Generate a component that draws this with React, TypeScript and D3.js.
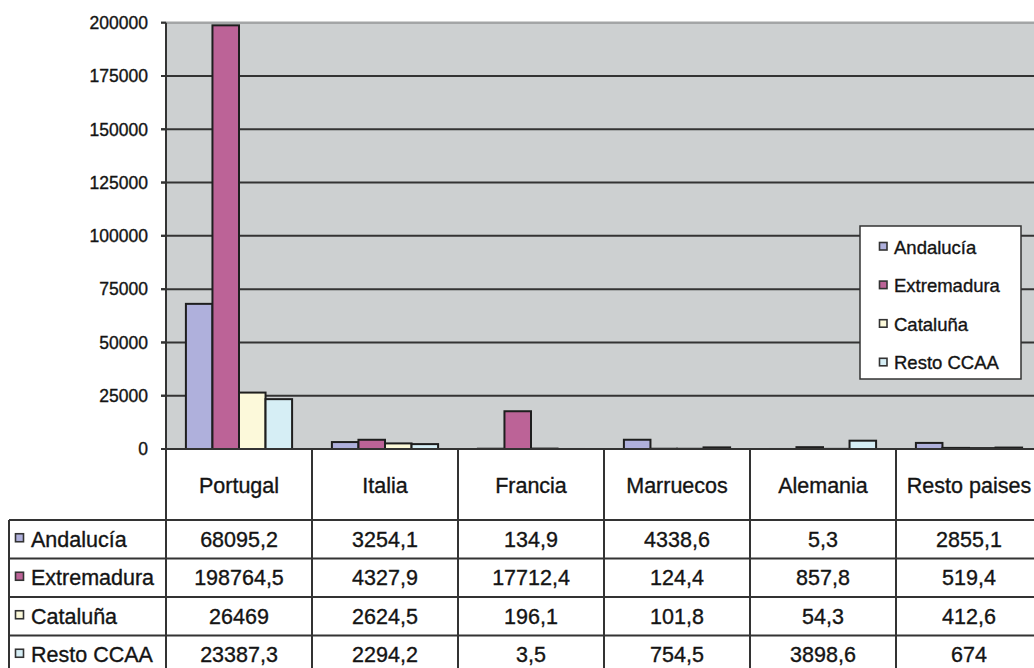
import React from "react";
import * as d3 from "d3";

const categories = ["Portugal", "Italia", "Francia", "Marruecos", "Alemania", "Resto paises"];
const seriesNames = ["Andalucía", "Extremadura", "Cataluña", "Resto CCAA"];
const andalucia = [68095.2, 3254.1, 134.9, 4338.6, 5.3, 2855.1];
const extremadura = [198764.5, 4327.9, 17712.4, 124.4, 857.8, 519.4];
const cataluna = [26469, 2624.5, 196.1, 101.8, 54.3, 412.6];
const restoCCAA = [23387.3, 2294.2, 3.5, 754.5, 3898.6, 674];
const tableLabels = [
  ["68095,2", "3254,1", "134,9", "4338,6", "5,3", "2855,1"],
  ["198764,5", "4327,9", "17712,4", "124,4", "857,8", "519,4"],
  ["26469", "2624,5", "196,1", "101,8", "54,3", "412,6"],
  ["23387,3", "2294,2", "3,5", "754,5", "3898,6", "674"],
];
const yTicks = [0, 25000, 50000, 75000, 100000, 125000, 150000, 175000, 200000];
const colors = ["#afb0dc", "#bc6397", "#fcf9da", "#d6eef5"];

const W = 1034;
const H = 668;
const FONT = "'Liberation Sans', Arial, sans-serif";
const TEXT_FILL = "#141414";

export default function App() {
  const series = [andalucia, extremadura, cataluna, restoCCAA];
  const left = 166;
  const right = 1042;
  const top = 22.7;
  const zeroY = 449;
  const x = d3.scaleBand<string>().domain(categories).range([left, right]).padding(0);
  const xs = d3.scaleBand<string>().domain(seriesNames).range([0, x.bandwidth()]).paddingInner(0).paddingOuter(0.75);
  const y = d3.scaleLinear().domain([0, 200000]).range([zeroY, top]);

  const rowTop = 520;
  const rowH = 38.5;
  const tableLeft = 9;
  const lineColor = "#333";
  const textStyle = { stroke: TEXT_FILL, strokeWidth: 0.35 } as const;

  return (
    <svg width={W} height={H} style={{ position: "absolute", left: 0, top: 0, background: "#fff" }} fontFamily={FONT}>
      {/* plot background */}
      <rect x={left} y={top} width={right - left} height={zeroY - top} fill="#cdd0d1" />
      {/* gridlines */}
      {yTicks.map((t) => (
        <g key={t}>
          <line
            x1={left - 5}
            x2={right}
            y1={y(t)}
            y2={y(t)}
            stroke={t === 200000 ? "#a3a5a6" : lineColor}
            strokeWidth={t === 200000 ? 2.5 : 2}
          />
          <line x1={left - 5} x2={left} y1={y(t)} y2={y(t)} stroke={lineColor} strokeWidth={2} />
          <text x={148} y={y(t)} dy="0.36em" textAnchor="end" fontSize={17.5} fill={TEXT_FILL} {...textStyle}>
            {t}
          </text>
        </g>
      ))}
      {/* y axis */}
      <line x1={left} x2={left} y1={top} y2={zeroY} stroke={lineColor} strokeWidth={2} />
      {/* bars */}
      {categories.map((c, ci) => (
        <g key={c}>
          {series.map((s, si) => {
            const bx = (x(c) as number) + (xs(seriesNames[si]) as number);
            const by = y(s[ci]);
            return (
              <rect
                key={si}
                x={bx}
                y={by}
                width={xs.bandwidth()}
                height={Math.max(0, zeroY - by)}
                fill={colors[si]}
                stroke="#1e1e1e"
                strokeWidth={2}
              />
            );
          })}
        </g>
      ))}
      {/* legend */}
      <g>
        <rect x={860} y={226} width={161} height={153} fill="#fff" stroke={lineColor} strokeWidth={1.5} />
        {seriesNames.map((n, i) => (
          <g key={n}>
            <rect x={879.5} y={247 + i * 38.6 - 4.5} width={7.5} height={7.5} fill={colors[i]} stroke="#333" strokeWidth={1.6} />
            <text x={894} y={247 + i * 38.6} dy="0.36em" fontSize={18.5} fill={TEXT_FILL} {...textStyle}>
              {n}
            </text>
          </g>
        ))}
      </g>
      {/* table */}
      <g>
        {categories.map((c) => (
          <text
            key={c}
            x={(x(c) as number) + x.bandwidth() / 2}
            y={(zeroY + rowTop) / 2 + 1}
            dy="0.36em"
            textAnchor="middle"
            fontSize={21.5}
            fill={TEXT_FILL}
            {...textStyle}
          >
            {c}
          </text>
        ))}
        {[0, 1, 2, 3, 4].map((r) => (
          <line
            key={r}
            x1={tableLeft}
            x2={right}
            y1={rowTop + r * rowH}
            y2={rowTop + r * rowH}
            stroke={lineColor}
            strokeWidth={2}
          />
        ))}
        <line x1={left - 5} x2={right} y1={zeroY} y2={zeroY} stroke={lineColor} strokeWidth={2.2} />
        {d3.range(categories.length + 1).map((i) => {
          const vx = left + i * x.bandwidth();
          return <line key={i} x1={vx} x2={vx} y1={zeroY} y2={H + 10} stroke={lineColor} strokeWidth={2} />;
        })}
        <line x1={tableLeft} x2={tableLeft} y1={rowTop} y2={H + 10} stroke={lineColor} strokeWidth={2} />
        {seriesNames.map((n, ri) => {
          const cy = rowTop + ri * rowH + rowH / 2;
          return (
            <g key={n}>
              <rect x={15.5} y={cy - 5.5} width={8} height={8} fill={colors[ri]} stroke="#333" strokeWidth={1.6} />
              <text x={31} y={cy} dy="0.36em" fontSize={21.5} fill={TEXT_FILL} {...textStyle}>
                {n}
              </text>
              {categories.map((c, ci) => (
                <text
                  key={c}
                  x={(x(c) as number) + x.bandwidth() / 2}
                  y={cy}
                  dy="0.36em"
                  textAnchor="middle"
                  fontSize={21.5}
                  fill={TEXT_FILL}
                  {...textStyle}
                >
                  {tableLabels[ri][ci]}
                </text>
              ))}
            </g>
          );
        })}
      </g>
    </svg>
  );
}
